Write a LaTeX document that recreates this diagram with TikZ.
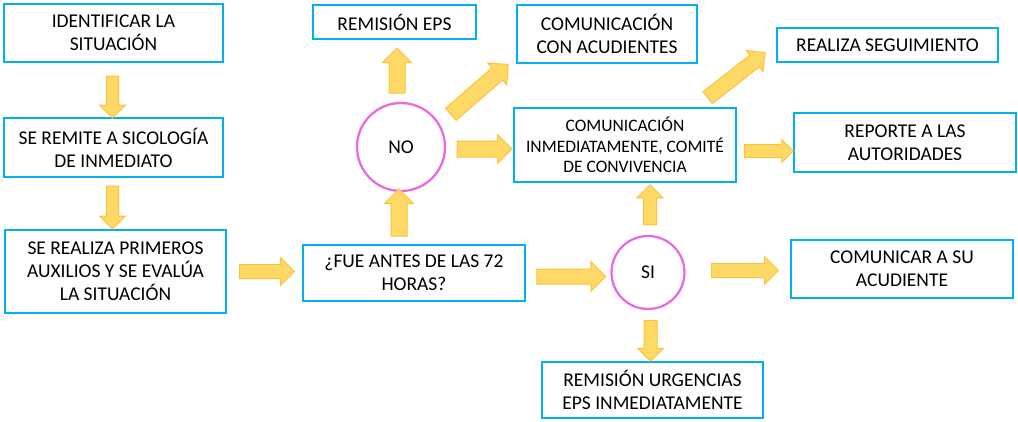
\documentclass[tikz,border=0pt]{standalone}
\usepackage{fontspec}
\setmainfont{Carlito}
\usetikzlibrary{shapes.arrows}
\definecolor{boxline}{HTML}{00B0F0}
\definecolor{circline}{HTML}{E86BE0}
\definecolor{arrfill}{HTML}{FFD966}
\definecolor{arrline}{HTML}{FBC23A}
\tikzset{
  box/.style={draw=boxline, line width=2.8pt, fill=white, align=center, inner sep=2pt,
    font=\fontsize{19.5}{23}\selectfont},
  circ/.style={circle, draw=circline, line width=2.3pt, font=\fontsize{19.5}{22}\selectfont},
  blockarr/.style={single arrow, draw=arrline, fill=arrfill, line width=1pt, inner xsep=0pt, single arrow tip angle=90}
}
% name, mid, length, head width, shaft width, rotation
\newcommand\barr[6]{\node[blockarr, minimum height=#3, minimum width=#4, inner ysep=#5/2, single arrow head extend={(#4-#5)/2}, rotate=#6] (#1) at (#2) {};}
\begin{document}
\begin{tikzpicture}[x=1pt,y=-1pt]
\useasboundingbox (0,0) rectangle (1018,421);
\node[box, minimum width=219, minimum height=58] (ident) at (113.5,33) {IDENTIFICAR LA\\SITUACIÓN};
\node[box, minimum width=219, minimum height=59] (remite) at (113.5,147.5) {SE REMITE A SICOLOGÍA\\DE INMEDIATO};
\node[box, minimum width=221, minimum height=83] (primeros) at (115.5,271.5) {SE REALIZA PRIMEROS\\AUXILIOS Y SE EVALÚA\\LA SITUACIÓN};
\node[box, minimum width=222, minimum height=56] (fue) at (414,273) {¿FUE ANTES DE LAS 72\\HORAS?};
\node[box, minimum width=163, minimum height=34] (eps) at (394.5,22) {REMISIÓN EPS};
\node[box, minimum width=180, minimum height=58] (conacud) at (607,34) {COMUNICACIÓN\\CON ACUDIENTES};
\node[box, minimum width=222, minimum height=74, font=\fontsize{17.5}{20.5}\selectfont] (comite) at (625,145) {COMUNICACIÓN\\INMEDIATAMENTE, COMITÉ\\DE CONVIVENCIA};
\node[box, minimum width=221, minimum height=34] (seg) at (887.5,45) {REALIZA SEGUIMIENTO};
\node[box, minimum width=222, minimum height=59] (reporte) at (905,142.5) {REPORTE A LAS\\AUTORIDADES};
\node[box, minimum width=222, minimum height=58] (comunicar) at (902,269) {COMUNICAR A SU\\ACUDIENTE};
\node[box, minimum width=221, minimum height=56] (urg) at (652.5,390) {REMISIÓN URGENCIAS\\EPS INMEDIATAMENTE};
\node[circ, minimum size=88] (no) at (401,147) {NO};
\node[circ, minimum size=73] (si) at (648,272.5) {SI};
\barr{a1}{112.5,94}{42}{25}{11}{-90}
\barr{a2}{112.5,204.5}{43}{25}{11}{-90}
\barr{a3}{263.5,271.5}{55}{27}{13}{0}
\barr{a4}{399,216.5}{47}{28}{15}{90}
\barr{a5}{397,74.5}{45}{28}{15}{90}
\barr{a6}{476.5,92}{76}{28}{15}{41}
\barr{a7}{480.5,149}{55}{28}{15}{0}
\barr{a8}{567.5,276.5}{69}{29}{14}{0}
\barr{a9}{650,208}{40}{25}{12}{90}
\barr{a10}{650.5,337.5}{41}{25}{12}{-90}
\barr{a11}{741.5,270.5}{67}{27}{13}{0}
\barr{a12}{765.5,151}{49}{22}{12}{0}
\barr{a13}{733.5,77.5}{73}{26}{14}{38}
\end{tikzpicture}
\end{document}
